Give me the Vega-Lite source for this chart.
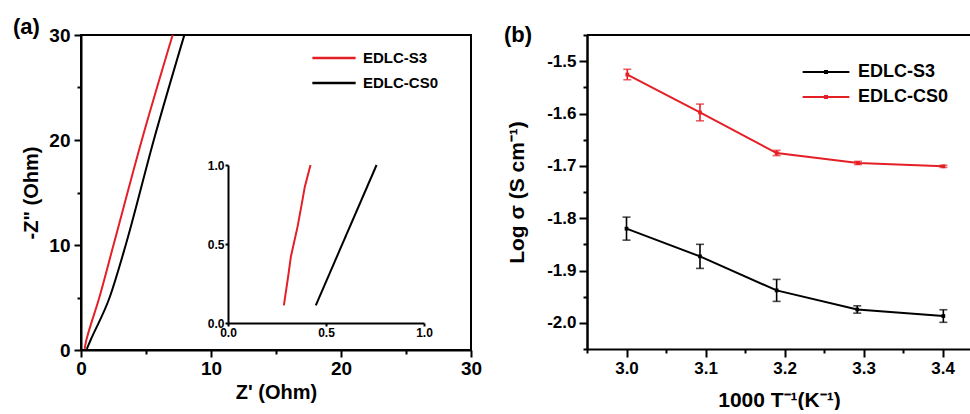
{
  "$schema": "https://vega.github.io/schema/vega-lite/v6.json",
  "background": "white",
  "padding": {"left": 12, "top": 15, "right": 0, "bottom": 0},
  "bounds": "flush",
  "spacing": 116,
  "config": {
    "font": "Liberation Sans",
    "view": {"stroke": "black", "strokeWidth": 2},
    "axis": {
      "grid": false,
      "domainColor": "black",
      "domainWidth": 2,
      "tickColor": "black",
      "tickWidth": 2,
      "labelColor": "black",
      "titleColor": "black",
      "labelFont": "Liberation Sans",
      "titleFont": "Liberation Sans",
      "labelFontWeight": "bold",
      "titleFontWeight": "bold",
      "labelOverlap": false,
      "labelFlush": false,
      "labelBound": false
    },
    "legend": {
      "labelFont": "Liberation Sans",
      "labelFontWeight": "bold",
      "labelColor": "black"
    },
    "title": {"font": "Liberation Sans", "fontWeight": "bold", "color": "black"}
  },
  "datasets": {
    "nyquist": [
      {"series": "EDLC-S3", "zre": 0.285, "zim": 0.112},
      {"series": "EDLC-S3", "zre": 0.307, "zim": 0.295},
      {"series": "EDLC-S3", "zre": 0.321, "zim": 0.421},
      {"series": "EDLC-S3", "zre": 0.355, "zim": 0.61},
      {"series": "EDLC-S3", "zre": 0.38, "zim": 0.779},
      {"series": "EDLC-S3", "zre": 0.392, "zim": 0.863},
      {"series": "EDLC-S3", "zre": 0.421, "zim": 1.0},
      {"series": "EDLC-S3", "zre": 1.41, "zim": 5},
      {"series": "EDLC-S3", "zre": 2.5, "zim": 10},
      {"series": "EDLC-S3", "zre": 4.68, "zim": 20},
      {"series": "EDLC-S3", "zre": 7.05, "zim": 30},
      {"series": "EDLC-CS0", "zre": 0.448, "zim": 0.112},
      {"series": "EDLC-CS0", "zre": 0.758, "zim": 1.0},
      {"series": "EDLC-CS0", "zre": 2.2, "zim": 5},
      {"series": "EDLC-CS0", "zre": 3.44, "zim": 10},
      {"series": "EDLC-CS0", "zre": 5.6, "zim": 20},
      {"series": "EDLC-CS0", "zre": 7.95, "zim": 30}
    ],
    "cond": [
      {"series": "EDLC-S3", "x": 3.0, "y": -1.82, "lo": -1.842, "hi": -1.798},
      {"series": "EDLC-S3", "x": 3.093, "y": -1.873, "lo": -1.896, "hi": -1.85},
      {"series": "EDLC-S3", "x": 3.19, "y": -1.938, "lo": -1.959, "hi": -1.917},
      {"series": "EDLC-S3", "x": 3.292, "y": -1.9745, "lo": -1.9815, "hi": -1.9675},
      {"series": "EDLC-S3", "x": 3.401, "y": -1.987, "lo": -1.999, "hi": -1.975},
      {"series": "EDLC-CS0", "x": 3.001, "y": -1.5255, "lo": -1.5355, "hi": -1.5155},
      {"series": "EDLC-CS0", "x": 3.093, "y": -1.598, "lo": -1.614, "hi": -1.582},
      {"series": "EDLC-CS0", "x": 3.19, "y": -1.6755, "lo": -1.6805, "hi": -1.6705},
      {"series": "EDLC-CS0", "x": 3.293, "y": -1.6945, "lo": -1.6975, "hi": -1.6915},
      {"series": "EDLC-CS0", "x": 3.401, "y": -1.701, "lo": -1.703, "hi": -1.699}
    ]
  },
  "hconcat": [
    {
      "width": 390,
      "height": 315,
      "title": {"text": "(a)", "anchor": "start", "frame": "group", "dx": -68, "offset": -13, "fontSize": 22},
      "layer": [
        {
          "data": {"name": "nyquist"},
          "mark": {"type": "line", "strokeWidth": 2, "interpolate": "monotone"},
          "encoding": {
            "x": {
              "field": "zre", "type": "quantitative",
              "scale": {"domain": [0, 30], "nice": false, "zero": false},
              "axis": {
                "title": "Z' (Ohm)",
                "values": [0, 5, 10, 15, 20, 25, 30],
                "labelExpr": "datum.value % 10 === 0 ? datum.label : ''",
                "tickSize": {"condition": {"test": "datum.value % 10 === 0", "value": 7}, "value": 4},
                "labelFontSize": 19,
                "labelPadding": 2,
                "titleFontSize": 20,
                "titlePadding": 4
              }
            },
            "y": {
              "field": "zim", "type": "quantitative",
              "scale": {"domain": [0, 30], "nice": false, "zero": false},
              "axis": {
                "title": "-Z\" (Ohm)",
                "values": [0, 5, 10, 15, 20, 25, 30],
                "labelExpr": "datum.value % 10 === 0 ? datum.label : ''",
                "tickSize": {"condition": {"test": "datum.value % 10 === 0", "value": 7}, "value": 4},
                "labelFontSize": 19,
                "labelPadding": 4,
                "titleFontSize": 20,
                "titlePadding": 7
              }
            },
            "color": {
              "field": "series", "type": "nominal",
              "scale": {"domain": ["EDLC-S3", "EDLC-CS0"], "range": ["#e41f26", "#000000"]},
              "legend": {
                "title": null,
                "orient": "none",
                "legendX": 243,
                "legendY": 13,
                "symbolType": "M-2.5,0H2.5",
                "symbolSize": 300,
                "symbolStrokeWidth": 2.5,
                "labelFontSize": 15,
                "rowPadding": 7,
                "labelOffset": 19
              }
            },
            "order": {"field": "zim", "type": "quantitative"}
          }
        },
        {
          "data": {"name": "nyquist"},
          "transform": [{"filter": "datum.zim <= 1.0001"}],
          "mark": {"type": "line", "strokeWidth": 2},
          "encoding": {
            "x": {
              "field": "zre", "type": "quantitative",
              "scale": {"domain": [0, 1], "nice": false, "zero": false, "range": [147, 343]},
              "axis": {
                "title": null,
                "orient": "bottom",
                "offset": -27,
                "values": [0, 0.5, 1],
                "format": ".1f",
                "tickSize": 3,
                "labelFontSize": 12,
                "labelPadding": 1
              }
            },
            "y": {
              "field": "zim", "type": "quantitative",
              "scale": {"domain": [0, 1], "nice": false, "zero": false, "range": [288, 130]},
              "axis": {
                "title": null,
                "orient": "left",
                "offset": -147,
                "values": [0, 0.5, 1],
                "format": ".1f",
                "tickSize": 3,
                "labelFontSize": 12,
                "labelPadding": 1
              }
            },
            "color": {"field": "series", "type": "nominal", "legend": null},
            "order": {"field": "zim", "type": "quantitative"}
          }
        }
      ],
      "resolve": {
        "scale": {"x": "independent", "y": "independent"},
        "axis": {"x": "independent", "y": "independent"}
      }
    },
    {
      "width": 384,
      "height": 314,
      "view": {"stroke": null},
      "title": {"text": "(b)", "anchor": "start", "frame": "group", "dx": -83, "offset": -13, "fontSize": 22},
      "data": {"name": "cond"},
      "layer": [
        {
          "mark": {"type": "line", "strokeWidth": 2},
          "encoding": {
            "x": {
              "field": "x", "type": "quantitative",
              "scale": {"domain": [2.95, 3.436], "nice": false, "zero": false},
              "axis": {
                "title": "1000 T⁻¹(K⁻¹)",
                "values": [2.95, 3.0, 3.05, 3.1, 3.15, 3.2, 3.25, 3.3, 3.35, 3.4],
                "labelExpr": "abs(datum.value*10 - round(datum.value*10)) < 0.001 ? format(datum.value, '.1f') : ''",
                "tickSize": {"condition": {"test": "abs(datum.value*10 - round(datum.value*10)) < 0.001", "value": 8}, "value": 4},
                "labelFontSize": 17,
                "labelPadding": 3,
                "titleFontSize": 21,
                "titlePadding": 13
              }
            },
            "y": {
              "field": "y", "type": "quantitative",
              "scale": {"domain": [-2.05, -1.45], "nice": false, "zero": false},
              "axis": {
                "title": "Log σ (S cm⁻¹)",
                "orient": "left",
                "values": [-2.0, -1.9, -1.8, -1.7, -1.6, -1.5],
                "labelExpr": "replace(format(datum.value, '.1f'), '−', '-')",
                "tickSize": 8,
                "labelFontSize": 17,
                "labelPadding": 3,
                "titleFontSize": 21,
                "titlePadding": 19
              }
            },
            "color": {
              "field": "series", "type": "nominal",
              "scale": {"domain": ["EDLC-S3", "EDLC-CS0"], "range": ["#000000", "#e41f26"]},
              "legend": {
                "title": null,
                "orient": "none",
                "legendX": 229,
                "legendY": 27,
                "symbolType": "M-2.7,0H2.7M-0.12,-0.12H0.12V0.12H-0.12Z",
                "symbolSize": 300,
                "symbolStrokeWidth": 2,
                "labelFontSize": 18,
                "rowPadding": 6,
                "labelOffset": 22
              }
            }
          }
        },
        {
          "mark": {"type": "point", "shape": "square", "filled": true, "size": 14, "opacity": 1},
          "encoding": {
            "x": {"field": "x", "type": "quantitative"},
            "y": {"field": "y", "type": "quantitative", "axis": null},
            "color": {"field": "series", "type": "nominal", "legend": null}
          }
        },
        {
          "mark": {"type": "errorbar", "ticks": true, "size": 8, "thickness": 1.6},
          "encoding": {
            "x": {"field": "x", "type": "quantitative"},
            "y": {"field": "lo", "type": "quantitative", "axis": null},
            "y2": {"field": "hi"},
            "color": {"field": "series", "type": "nominal", "legend": null}
          }
        },
        {
          "mark": {"type": "rule", "strokeWidth": 2, "color": "black"},
          "encoding": {
            "x": {"datum": 2.95, "type": "quantitative"},
            "x2": {"datum": 3.436},
            "y": {
              "datum": -1.45, "type": "quantitative",
              "axis": {
                "title": null,
                "orient": "left",
                "values": [-2.05, -1.95, -1.85, -1.75, -1.65, -1.55, -1.45],
                "labels": false,
                "tickSize": 4
              }
            }
          }
        }
      ],
      "resolve": {"axis": {"y": "independent"}}
    }
  ],
  "resolve": {"scale": {"color": "independent"}, "legend": {"color": "independent"}}
}
